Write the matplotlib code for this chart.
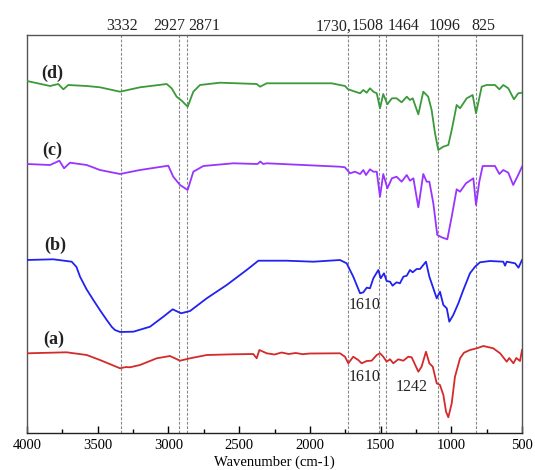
#!/usr/bin/env python
# -*- coding: utf-8 -*-

"""FTIR spectra of samples (a)-(d), stacked with offsets."""

import matplotlib
matplotlib.use("Agg")
import matplotlib.pyplot as plt
import matplotlib.transforms as mtransforms
from matplotlib.ticker import MultipleLocator

# Offset transmittance (a.u.)
wn_d = [4000, 3837, 3779, 3743, 3708, 3578, 3484, 3342, 3201, 3012, 2977, 2942,
        2906, 2864, 2824, 2777, 2635, 2376, 2352, 2305, 2084, 1846, 1787, 1752,
        1730, 1645, 1622, 1598, 1575, 1551, 1527, 1504, 1481, 1452, 1420, 1387,
        1351, 1315, 1292, 1273, 1233, 1198, 1163, 1139, 1115, 1092, 1057, 1021,
        997, 962, 938, 891, 849, 825, 785, 750, 691, 660, 632, 597, 557, 527, 500]
t_d = [352, 347, 349, 343.7, 348, 347, 345.7, 341.3, 345.7, 349, 344.7, 336.3,
       332.3, 326.3, 341.3, 348, 350.3, 349, 346.3, 349.7, 349.7, 349.7, 348, 347,
       343.7, 339.7, 343, 340.3, 344.7, 341.3, 339.7, 324.7, 339, 328.7, 334.7, 334.7,
       330.7, 336.3, 333, 334.7, 318.7, 341.3, 336.3, 323, 299.7, 283, 286.3, 288,
       303, 328, 324.7, 334.7, 338, 319.7, 346.3, 348, 348, 343.7, 348, 344.7, 333.7,
       339.7, 340.3]

wn_c = [4000, 3837, 3771, 3738, 3696, 3578, 3484, 3342, 3201, 3001, 2966, 2918,
        2864, 2824, 2753, 2541, 2370, 2350, 2330, 2305, 1787, 1752, 1716, 1681,
        1645, 1622, 1603, 1575, 1551, 1527, 1504, 1481, 1452, 1420, 1387, 1351,
        1315, 1292, 1268, 1233, 1198, 1174, 1155, 1127, 1099, 1068, 1028, 997,
        962, 938, 896, 844, 825, 802, 778, 691, 660, 632, 597, 562, 527, 500]
t_c = [269, 268, 272.3, 264.7, 270.3, 268, 263, 259, 263, 267.3, 256.3, 248,
       243, 261.3, 267, 269.7, 269, 271.5, 269, 269.7, 266.3, 265.7, 259.7, 261.3,
       259, 263, 258, 263.7, 261.3, 261.3, 236.3, 259, 244.7, 254.7, 256.3, 251.3,
       258, 252.3, 254.7, 225.7, 259, 251.3, 251.3, 229.7, 198, 195.7, 193.7, 216.3,
       243.7, 241.3, 249.7, 254.7, 228, 251.3, 267, 267, 259, 263, 260.3, 248, 258,
       266.3]

wn_b = [4000, 3814, 3684, 3650, 3625, 3580, 3531, 3480, 3436, 3400, 3378, 3342,
        3248, 3130, 3036, 2970, 2911, 2847, 2729, 2588, 2447, 2364, 2164, 1975,
        1787, 1740, 1693, 1645, 1622, 1598, 1575, 1551, 1516, 1499, 1476, 1457,
        1433, 1415, 1387, 1363, 1339, 1315, 1292, 1273, 1245, 1221, 1179, 1155,
        1127, 1103, 1080, 1056, 1032, 1014, 986, 950, 915, 868, 832, 797, 726, 632,
        620, 608, 549, 525, 500]
t_b = [173, 173.7, 171.3, 166, 156.3, 144, 133, 122, 113, 106, 103, 101,
       101.3, 106.3, 116.3, 123.7, 119.7, 122, 134.7, 148, 163, 172.3, 172.3, 171.3,
       173, 169.7, 156.3, 139.7, 140.7, 145.3, 144.7, 154.7, 163, 154.7, 159.7, 152,
       151.3, 147.3, 150.7, 149.7, 156.3, 157.3, 163, 160.7, 164, 164, 171.3, 156.3,
       144.7, 134.7, 141.3, 128, 124.7, 111.3, 118, 129.7, 143, 159.7, 166.3, 170.7,
       172, 171.3, 167.3, 171.3, 169.7, 165.3, 173]

wn_a = [4000, 3720, 3578, 3484, 3342, 3300, 3272, 3201, 3083, 2989, 2918, 2847,
        2729, 2541, 2400, 2376, 2357, 2305, 2250, 2200, 2150, 2100, 2050, 2000,
        1787, 1752, 1728, 1693, 1658, 1634, 1598, 1563, 1527, 1504, 1481, 1457,
        1433, 1410, 1375, 1339, 1304, 1280, 1233, 1210, 1179, 1155, 1131, 1103,
        1080, 1056, 1037, 1021, 997, 974, 938, 910, 868, 820, 773, 703, 655, 608,
        590, 561, 540, 514, 500]
t_a = [79.7, 80.7, 78, 73, 64.7, 66, 65.7, 68, 74.7, 77, 72.3, 74.7,
       78, 78.7, 79, 74.7, 83, 79.7, 78.5, 80.5, 79, 80, 78.8, 79.5,
       79.7, 76.3, 69.7, 76.3, 73, 69.7, 72, 72.3, 78, 79.7, 76.3, 71.3,
       73.7, 69.7, 73.7, 72.3, 76.3, 75.7, 61.3, 66.3, 81.3, 69.7, 66.3, 49.7,
       48, 38, 21.3, 15.7, 29.7, 56.3, 74.7, 80.3, 83, 84.7, 87, 84.7, 79.7, 71.3,
       75, 69.7, 75, 72, 83]

# Marked bands and the text written above the frame
band_wn = [3332, 2927, 2871, 1730, 1508, 1464, 1096, 825]
band_text = ["3332", "2927", "2871", "1730,", "1508", "1464", "1096", "825"]
band_text_x = [3325, 2996, 2748, 1830, 1592, 1334, 1044, 776]

series = [
    ("(a)", wn_a, t_a, "#d42a2a", (3810, 94)),
    ("(b)", wn_b, t_b, "#2222f0", (3800, 188)),
    ("(c)", wn_c, t_c, "#9933ff", (3820, 283)),
    ("(d)", wn_d, t_d, "#3a9a3a", (3820, 360)),
]

peak_notes = [("1610", 1610, 128), ("1610", 1610, 56), ("1242", 1278, 46)]


def create_plot():
    """Create plot"""
    plt.rcParams["font.family"] = ["Liberation Serif", "DejaVu Serif"]
    fig = plt.figure(figsize=(5.35, 4.7), dpi=100)
    ax = fig.add_axes([27 / 535, 37 / 470, 495 / 535, 398 / 470])

    for wn in band_wn:
        ax.axvline(wn, color="#888888", lw=0.8, ls=(0, (2.5, 1.5)), zorder=1)

    for label, wn, t, color, pos in series:
        ax.plot(wn, t, color=color, lw=1.3, zorder=3)
        ax.text(pos[0], pos[1], label, fontsize=13, fontweight="bold",
                ha="center", va="center", color="#222222")

    for text, x, y in peak_notes:
        ax.text(x, y, text, fontsize=11.5, ha="center", va="center",
                color="#222222")

    trans = mtransforms.blended_transform_factory(ax.transData, ax.transAxes)
    for text, x in zip(band_text, band_text_x):
        ax.text(x, 1.012, text, transform=trans, fontsize=11.5,
                ha="center", va="baseline", color="#222222")

    ax.set_xlim(4000, 500)
    ax.set_ylim(0, 398)
    ax.xaxis.set_major_locator(MultipleLocator(500))
    ax.xaxis.set_minor_locator(MultipleLocator(250))
    ax.tick_params(axis="x", which="major", direction="in", length=5,
                   width=1, labelsize=10.5, pad=4)
    ax.tick_params(axis="x", which="minor", direction="in", length=3, width=1)
    ax.set_yticks([])
    for spine in ax.spines.values():
        spine.set_color("#555555")
        spine.set_linewidth(1)
    ax.spines["bottom"].set_color("#222222")
    ax.set_xlabel("Wavenumber (cm-1)", fontsize=10.5, labelpad=3)

    fig.savefig("out.png", dpi=100)
    plt.close(fig)


def main():
    """Main function"""
    create_plot()


if __name__ == "__main__":
    main()
